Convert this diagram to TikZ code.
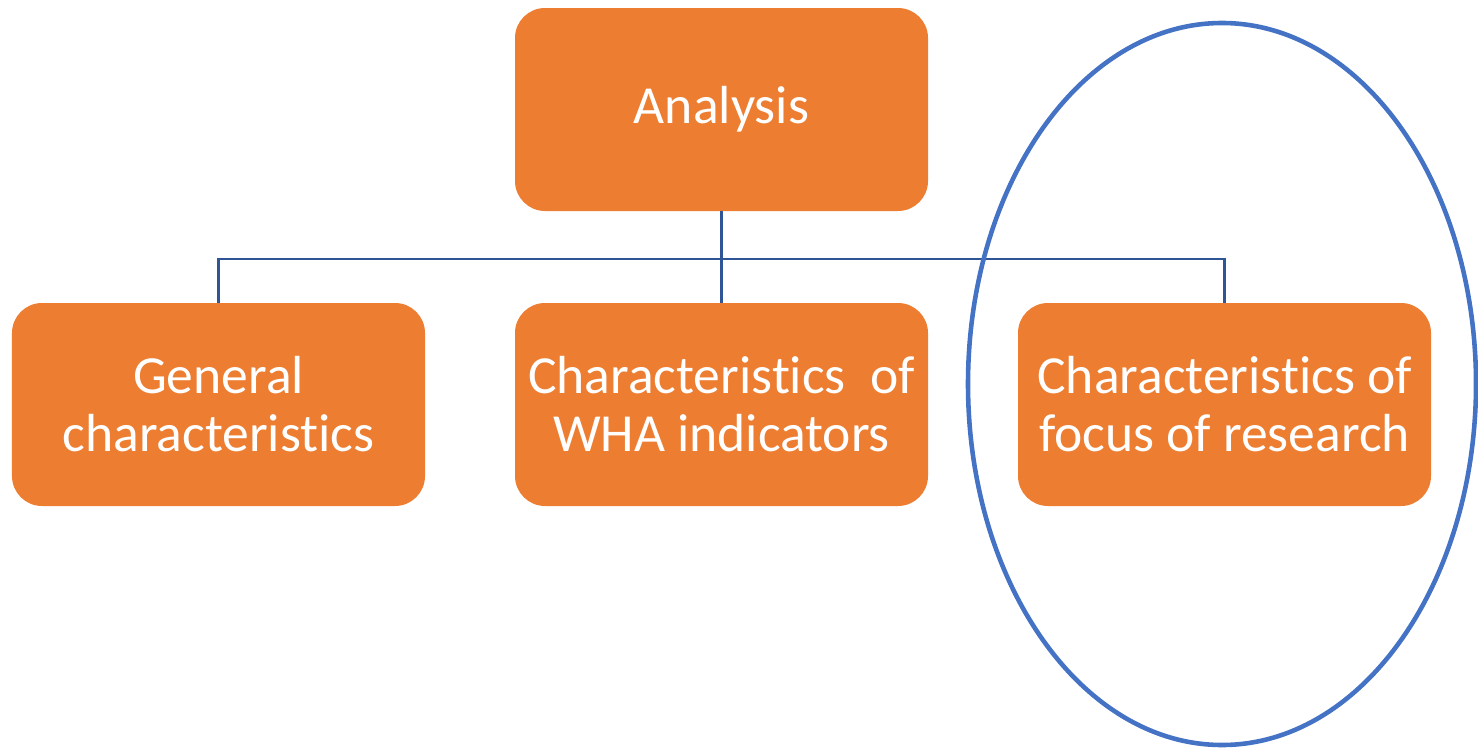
\documentclass[tikz,border=0pt]{standalone}
\usepackage{fontspec}
\setmainfont{Carlito}[Ligatures={NoCommon}]
\usepackage{tikz}

\definecolor{boxorange}{HTML}{ED7D31}
\definecolor{linkblue}{HTML}{2F5597}
\definecolor{ringblue}{HTML}{4472C4}

\tikzset{
	topicbox/.style={rounded corners=6mm, fill=boxorange, text=white, align=center,
		minimum width=8.26cm, minimum height=4.06cm, font=\fontsize{30.5}{33}\selectfont},
	link/.style={draw=linkblue, line width=1.3pt},
}

\begin{document}
\begin{tikzpicture}
	\useasboundingbox (0,0) rectangle (29.56,-14.98);

	\node[topicbox] (analysis) at (14.43,-2.19) {Analysis};
	\node[topicbox] (general) at (4.37,-8.09) {General\\characteristics};
	\node[topicbox] (wha) at (14.43,-8.09) {Characteristics\ \ of\\WHA indicators};
	\node[topicbox] (focus) at (24.49,-8.09) {Characteristics of\\focus of research};

	\draw[link] (analysis.south) -- (wha.north);
	\draw[link] (general.north) -- ++(0,0.88) -| (focus.north);

	\draw[ringblue, line width=2.6pt] (24.44,-7.68) ellipse (5.08cm and 7.22cm);
\end{tikzpicture}
\end{document}
